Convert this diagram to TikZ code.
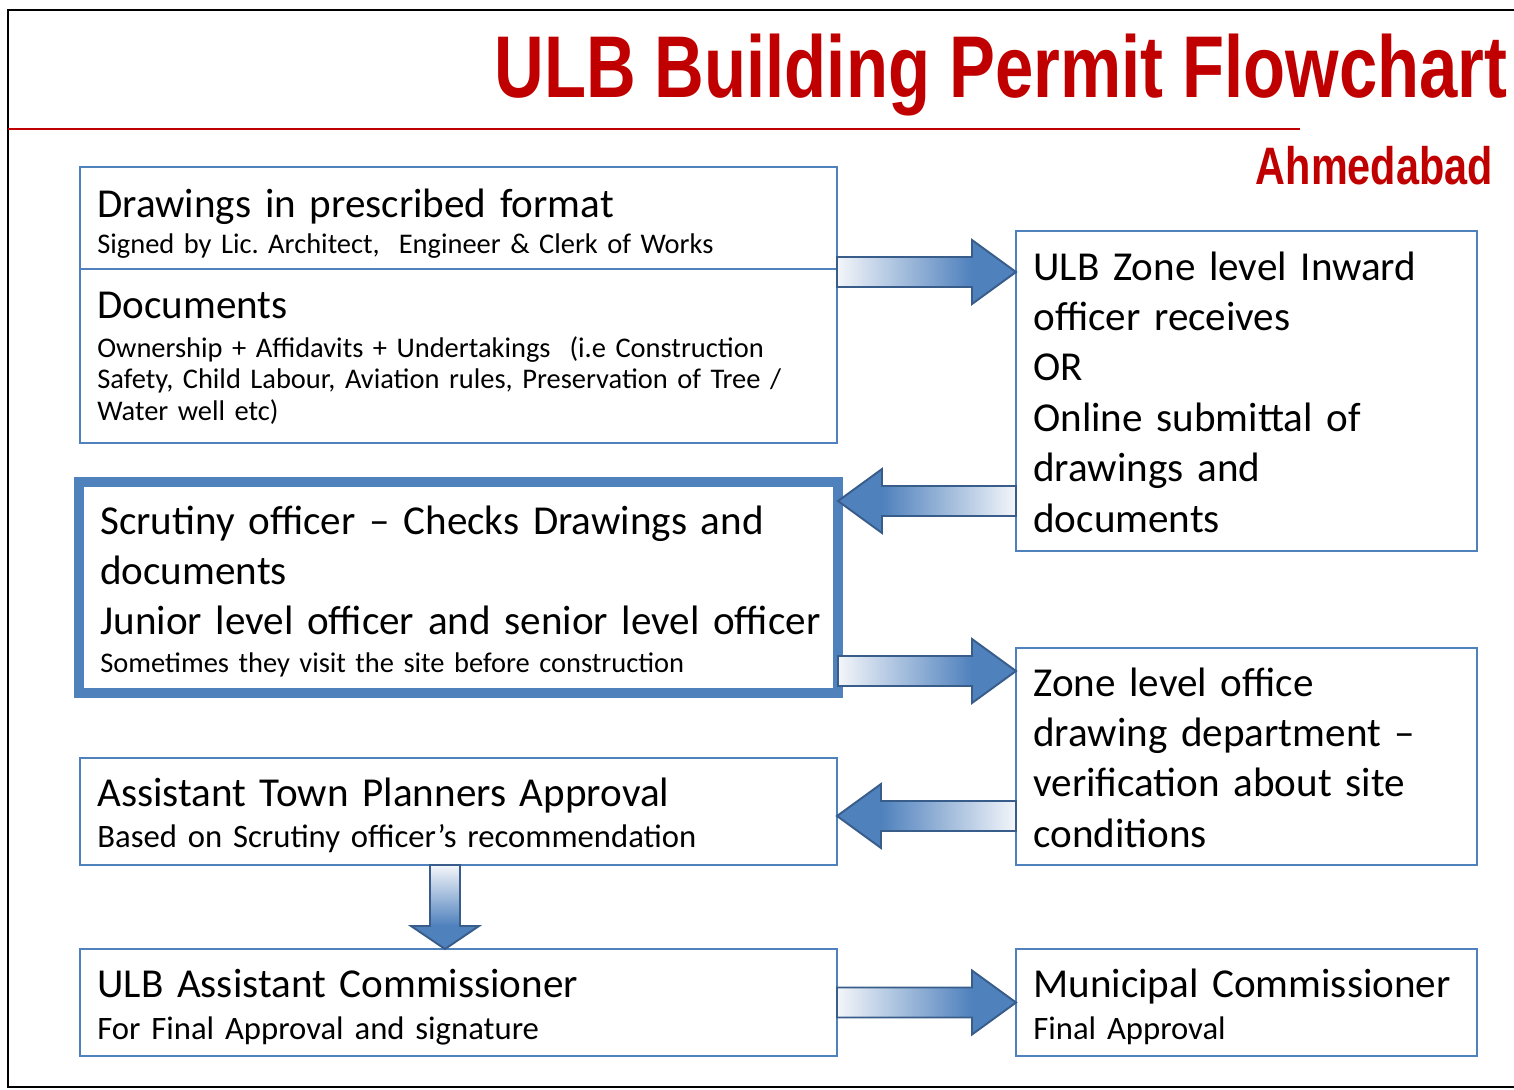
\documentclass[tikz,border=0pt]{standalone}
\usepackage{fontspec}
\setmainfont{Carlito}
\newfontfamily\titlefont{Liberation Sans}[FakeStretch=0.785]
\usetikzlibrary{calc,fit}
\frenchspacing

\definecolor{titlered}{HTML}{C00000}
\definecolor{boxblue}{HTML}{4F81BD}
\definecolor{arrowblue}{HTML}{4F81BD}
\definecolor{arrowedge}{HTML}{385D8A}
\definecolor{arrowpale}{HTML}{F4F6FA}

\tikzset{
  flowbox/.style={draw=boxblue, line width=1.3pt, inner sep=0pt, outer sep=0pt},
  mainbox/.style={flowbox, line width=5.7pt},
  bigtxt/.style={font=\fontsize{23.4pt}{28.7pt}\selectfont, text width=15cm,
    align=left, inner sep=0pt, anchor=base west},
  smalltxt/.style={font=\fontsize{16.2pt}{18.1pt}\selectfont, text width=15cm,
    align=left, inner sep=0pt, anchor=base west},
  subtxt/.style={smalltxt, font=\fontsize{18.6pt}{21pt}\selectfont},
  titletxt/.style={font=\titlefont\bfseries\fontsize{49.9pt}{50pt}\selectfont,
    text=titlered, inner sep=0pt},
  citytxt/.style={font=\titlefont\bfseries\fontsize{30pt}{32pt}\selectfont,
    text=titlered, inner sep=0pt},
  arrowline/.style={draw=arrowedge, line width=1.1pt, line join=miter}
}

% block arrows: #1 = tail, #2 = tip
\newcommand{\rightblock}[2]{%
  \shade[left color=arrowpale, right color=arrowblue]
    ($(#1)+(0,-15)$) rectangle ($(#2)+(-44,15)$);
  \fill[arrowblue] ($(#2)+(-44,-32)$) -- (#2) -- ($(#2)+(-44,32)$) -- cycle;
  \draw[arrowline] ($(#1)+(0,-15)$) -- ($(#2)+(-44,-15)$) -- ($(#2)+(-44,-32)$)
    -- (#2) -- ($(#2)+(-44,32)$) -- ($(#2)+(-44,15)$) -- ($(#1)+(0,15)$) -- cycle;}
\newcommand{\leftblock}[2]{%
  \shade[left color=arrowblue, right color=arrowpale]
    ($(#2)+(44,-15)$) rectangle ($(#1)+(0,15)$);
  \fill[arrowblue] ($(#2)+(44,-32)$) -- (#2) -- ($(#2)+(44,32)$) -- cycle;
  \draw[arrowline] ($(#1)+(0,-15)$) -- ($(#2)+(44,-15)$) -- ($(#2)+(44,-32)$)
    -- (#2) -- ($(#2)+(44,32)$) -- ($(#2)+(44,15)$) -- ($(#1)+(0,15)$) -- cycle;}
\newcommand{\downblock}[2]{%
  \shade[top color=arrowpale, bottom color=arrowblue]
    ($(#1)+(-15,0)$) rectangle ($(#2)+(15,-23)$);
  \fill[arrowblue] ($(#2)+(-34,-23)$) -- (#2) -- ($(#2)+(34,-23)$) -- cycle;
  \draw[arrowline] ($(#1)+(-15,0)$) -- ($(#2)+(-15,-23)$) -- ($(#2)+(-34,-23)$)
    -- (#2) -- ($(#2)+(34,-23)$) -- ($(#2)+(15,-23)$) -- ($(#1)+(15,0)$) -- cycle;}

\begin{document}
\begin{tikzpicture}[x=0.02cm, y=-0.02cm]
  \useasboundingbox (0,0) rectangle (1514,1089);

  % Frame and heading
  \draw[line width=1.4pt] (1514,10) -- (8,10) -- (8,1087) -- (1514,1087);
  \draw[titlered, line width=1.1pt] (8,129) -- (1300,129);
  \node[titletxt, anchor=base east] (title) at (1508,97) {ULB Building Permit Flowchart};
  \node[citytxt, anchor=base east] (city) at (1493,184) {Ahmedabad};

  % Boxes, left column
  \node[flowbox, fit={(80,167) (837,269)}] (drawings) {};
  \node[flowbox, fit={(80,269) (837,443)}] (docs) {};
  \node[mainbox, fit={(79,482) (838,693)}] (scrutiny) {};
  \node[flowbox, fit={(80,758) (837,865)}] (atp) {};
  \node[flowbox, fit={(80,949) (837,1056)}] (asstcomm) {};

  % Boxes, right column
  \node[flowbox, fit={(1016,231) (1477,551)}] (inward) {};
  \node[flowbox, fit={(1016,648) (1477,865)}] (zoneoffice) {};
  \node[flowbox, fit={(1016,949) (1477,1056)}] (muncomm) {};

  % Texts
  \node[bigtxt] (drawingshead) at ([shift={(17,50)}]drawings.north west)
    {Drawings in prescribed format};
  \node[smalltxt] (drawingssub) at ([shift={(17,86)}]drawings.north west)
    {Signed by Lic. Architect,\ \ Engineer \& Clerk of Works};
  \node[bigtxt] (docshead) at ([shift={(17,49)}]docs.north west) {Documents};
  \node[smalltxt] (docssub) at ([shift={(17,88)}]docs.north west)
    {Ownership + Affidavits + Undertakings\ \ (i.e Construction\\
     Safety, Child Labour, Aviation rules, Preservation of Tree /\\
     Water well etc)};
  \node[bigtxt] (inwardtxt) at ([shift={(17,49)}]inward.north west)
    {ULB Zone level Inward\\ officer receives\\ OR\\ Online submittal of\\
     drawings and\\ documents};
  \node[bigtxt] (scrutinytxt) at ([shift={(21,52)}]scrutiny.north west)
    {Scrutiny officer -- Checks Drawings and\\ documents\\
     Junior level officer and senior level officer};
  \node[smalltxt] (scrutinysub) at ([shift={(21,190)}]scrutiny.north west)
    {Sometimes they visit the site before construction};
  \node[bigtxt] (zonetxt) at ([shift={(17,48)}]zoneoffice.north west)
    {Zone level office\\ drawing department --\\ verification about site\\ conditions};
  \node[bigtxt] (atphead) at ([shift={(17,48)}]atp.north west)
    {Assistant Town Planners Approval};
  \node[subtxt] (atpsub) at ([shift={(17,89)}]atp.north west)
    {Based on Scrutiny officer’s recommendation};
  \node[bigtxt] (asstcommhead) at ([shift={(17,48)}]asstcomm.north west)
    {ULB Assistant Commissioner};
  \node[subtxt] (asstcommsub) at ([shift={(17,90)}]asstcomm.north west)
    {For Final Approval and signature};
  \node[bigtxt] (muncommhead) at ([shift={(17,48)}]muncomm.north west)
    {Municipal Commissioner};
  \node[subtxt] (muncommsub) at ([shift={(17,90)}]muncomm.north west)
    {Final Approval};

  % Arrow ends
  \coordinate (a1s) at (drawings.east |- 0,272);
  \coordinate (a1e) at (inward.west |- 0,272);
  \coordinate (a2s) at (inward.west |- 0,501);
  \coordinate (a2e) at (scrutiny.east |- 0,501);
  \coordinate (a3s) at (scrutiny.east |- 0,671);
  \coordinate (a3e) at (zoneoffice.west |- 0,671);
  \coordinate (a4s) at (zoneoffice.west |- 0,816);
  \coordinate (a4e) at (atp.east |- 0,816);
  \coordinate (a5s) at (atp.south -| 445,0);
  \coordinate (a5e) at (asstcomm.north -| 445,0);

  % Block arrows
  \rightblock{a1s}{a1e}
  \leftblock{a2s}{a2e}
  \rightblock{a3s}{a3e}
  \leftblock{a4s}{a4e}
  \downblock{a5s}{a5e}
  \rightblock{asstcomm.east}{muncomm.west}
\end{tikzpicture}
\end{document}
